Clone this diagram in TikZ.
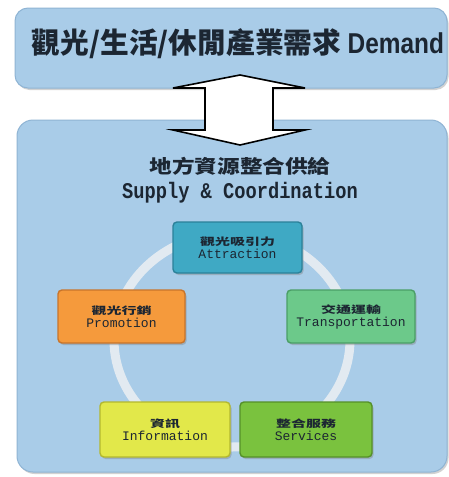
\documentclass[tikz,border=0pt]{standalone}
\usepackage{fontspec}
\setmonofont{Liberation Mono}
\setsansfont{Liberation Sans}
\newfontfamily\cjk{Noto Sans CJK TC}
\usetikzlibrary{shadows}
\definecolor{panelfill}{HTML}{A9CCE8}
\definecolor{panelline}{HTML}{8FB4D4}
\definecolor{txt}{HTML}{1C2632}
\definecolor{ringc}{HTML}{E2EAF1}
\definecolor{attr}{HTML}{3FA9C4}
\definecolor{attrl}{HTML}{2B8199}
\definecolor{promo}{HTML}{F59A3C}
\definecolor{promol}{HTML}{C8742A}
\definecolor{trans}{HTML}{6CC98A}
\definecolor{transl}{HTML}{4A9E66}
\definecolor{info}{HTML}{E2E84A}
\definecolor{infol}{HTML}{B3B82E}
\definecolor{serv}{HTML}{7AC23E}
\definecolor{servl}{HTML}{559028}
\tikzset{
  panel/.style={draw=panelline, line width=1pt, fill=panelfill, rounded corners=13pt,
    drop shadow={shadow xshift=1.5pt, shadow yshift=-2pt, opacity=.35}},
  itembox/.style={rounded corners=4pt, line width=1.4pt, minimum width=128pt, minimum height=53pt,
    align=center, inner sep=2pt, text=txt,
    drop shadow={shadow xshift=1.5pt, shadow yshift=-2pt, opacity=.4}},
  ring/.style={draw=ringc, line width=9pt},
}
\newcommand{\itemtext}[2]{\scalebox{1.5}[1]{\cjk\bfseries\fontsize{10}{12}\selectfont #1}\\[1pt]{\ttfamily\fontsize{13}{14}\selectfont #2}}
\begin{document}
\begin{tikzpicture}[x=1pt,y=-1pt]
\useasboundingbox (0,0) rectangle (449,477);
\fill[white] (0,0) rectangle (449,477);
% panels
\node[panel, minimum width=432pt, minimum height=80pt] (demand) at (231,48) {};
\node[panel, minimum width=430pt, minimum height=352pt, rounded corners=16pt] (supply) at (232,296) {};
\node[text=txt] (demandtext) at (238,44) {\resizebox{412pt}{!}{\cjk\bfseries\fontsize{24}{28}\selectfont 觀光/生活/休閒產業需求 \scalebox{0.85}[1]{\sffamily\bfseries Demand}}};
% double arrow
\draw[fill=white, draw=black, line width=1.6pt, line join=miter]
  (240,75) -- (305,88) -- (273,88) -- (273,130) -- (305,130) -- (240,145)
  -- (173,130) -- (205,130) -- (205,88) -- (173,88) -- cycle;
% titles
\node[text=txt] (supplycn) at (240,166) {\scalebox{1.03}[0.85]{\cjk\bfseries\fontsize{22}{26}\selectfont 地方資源整合供給}};
\node[text=txt] (supplyen) at (240,193) {\scalebox{1}[1.2]{\ttfamily\bfseries\fontsize{18.7}{20}\selectfont Supply \& Coordination}};
% ring
\draw[ring] (232,340) ellipse [x radius=118pt, y radius=107pt];
% items
\node[itembox, fill=attr, draw=attrl, minimum width=129pt, minimum height=51pt] (attraction) at (237.5,247.5) {\itemtext{觀光吸引力}{Attraction}};
\node[itembox, fill=promo, draw=promol, minimum width=127pt] (promotion) at (121.5,316.5) {\itemtext{觀光行銷}{Promotion}};
\node[itembox, fill=trans, draw=transl] (transportation) at (351,316.5) {\itemtext{交通運輸}{Transportation}};
\node[itembox, fill=info, draw=infol, minimum width=130pt, minimum height=55pt] (information) at (165,429.5) {\itemtext{資訊}{Information}};
\node[itembox, fill=serv, draw=servl, minimum width=132pt, minimum height=55pt] (services) at (306,429.5) {\itemtext{整合服務}{Services}};
\end{tikzpicture}
\end{document}
